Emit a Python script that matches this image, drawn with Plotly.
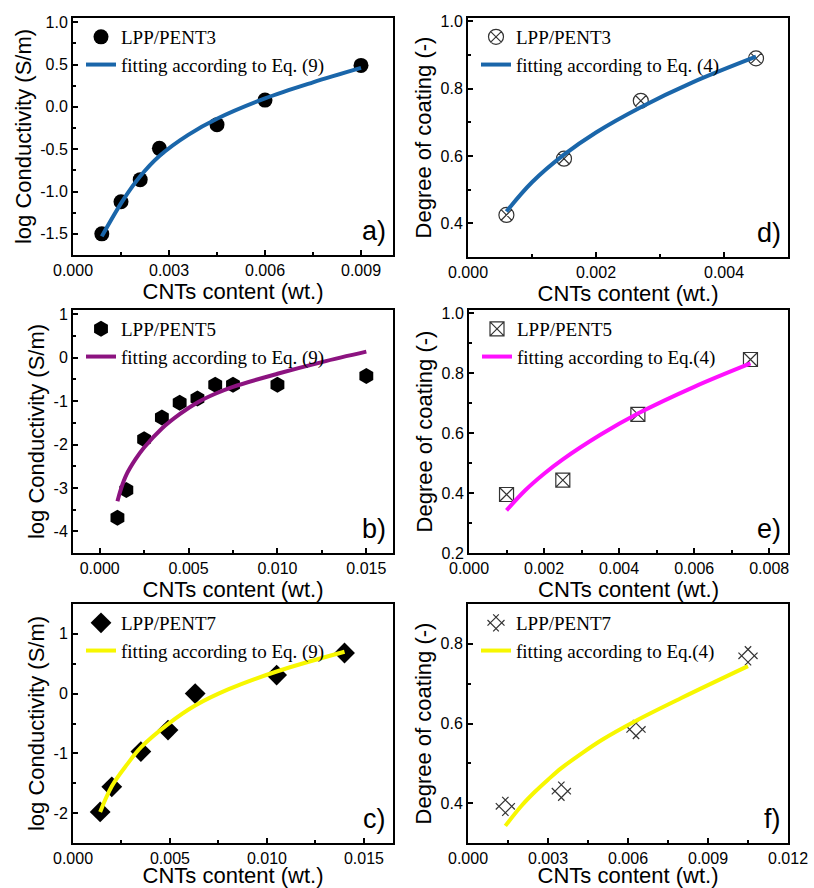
import plotly.graph_objects as go

W, H = 814, 888

# ---------------- data ----------------
# a) LPP/PENT3 log conductivity
a_x = [0.0009, 0.0015, 0.0021, 0.0027, 0.0045, 0.006, 0.009]
a_y = [-1.50, -1.12, -0.86, -0.49, -0.21, 0.08, 0.49]
a_fit_x = [0.0009, 0.00155, 0.0021, 0.0027, 0.0036, 0.0045, 0.006, 0.0075, 0.009]
a_fit_y = [-1.53, -1.11, -0.82, -0.58, -0.33, -0.14, 0.10, 0.29, 0.46]

# b) LPP/PENT5 log conductivity
b_x = [0.001, 0.0015, 0.0025, 0.0035, 0.0045, 0.0055, 0.0065, 0.0075, 0.010, 0.015]
b_y = [-3.69, -3.05, -1.88, -1.38, -1.04, -0.94, -0.62, -0.62, -0.62, -0.42]
b_fit_x = [0.001, 0.0012, 0.0015, 0.002, 0.0025, 0.0035, 0.0045, 0.0055, 0.0065, 0.0075, 0.010, 0.0125, 0.015]
b_fit_y = [-3.31, -3.02, -2.70, -2.35, -2.07, -1.63, -1.30, -1.03, -0.83, -0.67, -0.37, -0.10, 0.14]

# c) LPP/PENT7 log conductivity
c_x = [0.0014, 0.002, 0.0035, 0.0049, 0.0063, 0.0105, 0.014]
c_y = [-1.98, -1.56, -0.97, -0.61, 0.00, 0.31, 0.68]
c_fit_x = [0.0014, 0.002, 0.0028, 0.0035, 0.0049, 0.0063, 0.008, 0.0105, 0.014]
c_fit_y = [-1.98, -1.55, -1.18, -0.90, -0.51, -0.20, 0.07, 0.37, 0.70]

# d) LPP/PENT3 degree of coating
d_x = [0.0006, 0.0015, 0.0027, 0.0045]
d_y = [0.425, 0.592, 0.764, 0.890]
d_fit_x = [0.0006, 0.001, 0.0015, 0.002, 0.0027, 0.0035, 0.0045]
d_fit_y = [0.435, 0.522, 0.604, 0.670, 0.745, 0.818, 0.895]

# e) LPP/PENT5 degree of coating
e_x = [0.001, 0.0025, 0.0045, 0.0075]
e_y = [0.395, 0.443, 0.662, 0.845]
e_fit_x = [0.001, 0.0015, 0.002, 0.0025, 0.0035, 0.0045, 0.006, 0.0075]
e_fit_y = [0.342, 0.409, 0.464, 0.512, 0.594, 0.665, 0.754, 0.832]

# f) LPP/PENT7 degree of coating
f_x = [0.0014, 0.0035, 0.0063, 0.0105]
f_y = [0.392, 0.430, 0.585, 0.770]
f_fit_x = [0.0014, 0.002, 0.0025, 0.003, 0.0035, 0.0042, 0.005, 0.0063, 0.008, 0.0105]
f_fit_y = [0.343, 0.393, 0.428, 0.459, 0.488, 0.522, 0.558, 0.607, 0.664, 0.744]

# tick labels
a_yticks = [-1.5, -1.0, -0.5, 0.0, 0.5, 1.0]
a_yticktext = ["-1.5", "-1.0", "-0.5", "0.0", "0.5", "1.0"]
b_yticks = [-4, -3, -2, -1, 0, 1]
b_yticktext = ["-4", "-3", "-2", "-1", "0", "1"]
c_yticks = [-2, -1, 0, 1]
c_yticktext = ["-2", "-1", "0", "1"]

series_names = ["LPP/PENT3", "LPP/PENT5", "LPP/PENT7"]
fit_names_a = ["fitting according to Eq. (9)", "fitting according to Eq. (9)", "fitting according to Eq. (9)"]
fit_names_d = ["fitting according to Eq. (4)", "fitting according to Eq.(4)", "fitting according to Eq.(4)"]

x_title = "CNTs content (wt.)"
y_title_left = "log Conductivity (S/m)"
y_title_right = "Degree of coating (-)"

# ---------------- layout spec ----------------
panels = [
    dict(key="a", frame=(73, 393, 18, 255), xr=[0, 0.01], xd=0.003, xm=0.0015,
         yr=[-1.75, 1.05], yd=0.5, ym=0.25, yt=(a_yticks, a_yticktext),
         x=a_x, y=a_y, fx=a_fit_x, fy=a_fit_y, sym="circle", size=15, filled=True, ang=0,
         col="#1a66aa", name=series_names[0], fname=fit_names_a[0], ytitle=y_title_left),
    dict(key="b", frame=(73, 393, 310, 553), xr=[-0.0015, 0.0165], xd=0.005, xm=0.0025,
         yr=[-4.5, 1.1], yd=1, ym=0.5, yt=(b_yticks, b_yticktext),
         x=b_x, y=b_y, fx=b_fit_x, fy=b_fit_y, sym="hexagon", size=16, filled=True, ang=0,
         col="#8c1380", name=series_names[1], fname=fit_names_a[1], ytitle=y_title_left),
    dict(key="c", frame=(73, 393, 604, 843), xr=[0, 0.0165], xd=0.005, xm=0.0025,
         yr=[-2.5, 1.5], yd=1, ym=0.5, yt=(c_yticks, c_yticktext),
         x=c_x, y=c_y, fx=c_fit_x, fy=c_fit_y, sym="diamond", size=16, filled=True, ang=0,
         col="#f7f700", name=series_names[2], fname=fit_names_a[2], ytitle=y_title_left),
    dict(key="d", frame=(468, 788, 18, 257), xr=[0, 0.005], xd=0.002, xm=0.001,
         yr=[0.3, 1.01], yd=0.2, ym=0.1, yt=None,
         x=d_x, y=d_y, fx=d_fit_x, fy=d_fit_y, sym="circle-x-open", size=15, filled=False, ang=0,
         col="#1a66aa", name=series_names[0], fname=fit_names_d[0], ytitle=y_title_right),
    dict(key="e", frame=(469, 788, 310, 553), xr=[0, 0.0085], xd=0.002, xm=0.001,
         yr=[0.2, 1.01], yd=0.2, ym=0.1, yt=None,
         x=e_x, y=e_y, fx=e_fit_x, fy=e_fit_y, sym="square-x-open", size=14, filled=False, ang=0,
         col="#ff10ff", name=series_names[1], fname=fit_names_d[1], ytitle=y_title_right),
    dict(key="f", frame=(468, 788, 604, 843), xr=[0, 0.012], xd=0.003, xm=0.0015,
         yr=[0.3, 0.9], yd=0.2, ym=0.1, yt=None,
         x=f_x, y=f_y, fx=f_fit_x, fy=f_fit_y, sym="hash-open", size=18, filled=False, ang=45,
         col="#f7f700", name=series_names[2], fname=fit_names_d[2], ytitle=y_title_right),
]

SANS = "Liberation Sans, Arial, sans-serif"
SERIF = "Liberation Serif, Times New Roman, serif"

fig = go.Figure()
layout = dict(template="none", width=W, height=H, margin=dict(l=0, r=0, t=0, b=0),
              paper_bgcolor="white", plot_bgcolor="white", showlegend=True,
              annotations=[])

for i, p in enumerate(panels):
    n = i + 1
    xa = "x" if n == 1 else f"x{n}"
    ya = "y" if n == 1 else f"y{n}"
    lg = "legend" if n == 1 else f"legend{n}"
    L, R, T, B = p["frame"]
    axis_common = dict(showline=True, linecolor="black", linewidth=2, mirror=True,
                       ticks="inside", ticklen=5, tickwidth=1.5, tickcolor="black",
                       showgrid=False, zeroline=False, automargin=False,
                       tickfont=dict(family=SANS, size=16, color="black"))
    xaxis = dict(axis_common, domain=[L / W, R / W], range=p["xr"], anchor=ya,
                 tick0=0, dtick=p["xd"], tickformat=".3f",
                 minor=dict(ticks="inside", ticklen=3, tickwidth=1.5, tickcolor="black",
                            tick0=0, dtick=p["xm"], showgrid=False),
                 title=dict(text=x_title, font=dict(family=SANS, size=22, color="black"),
                            standoff=1))
    yaxis = dict(axis_common, domain=[1 - B / H, 1 - T / H], range=p["yr"], anchor=xa,
                 tick0=0, dtick=p["yd"], tickformat=".1f",
                 minor=dict(ticks="inside", ticklen=3, tickwidth=1.5, tickcolor="black",
                            tick0=0, dtick=p["ym"], showgrid=False),
                 title=dict(text=p["ytitle"], font=dict(family=SANS, size=22, color="black"),
                            standoff=3))
    if p["yt"] is not None:
        yaxis.update(tickmode="array", tickvals=p["yt"][0], ticktext=p["yt"][1])
    layout["xaxis" if n == 1 else f"xaxis{n}"] = xaxis
    layout["yaxis" if n == 1 else f"yaxis{n}"] = yaxis

    if p["filled"]:
        marker = dict(symbol=p["sym"], size=p["size"], color="black",
                      line=dict(width=0, color="black"))
    else:
        marker = dict(symbol=p["sym"], size=p["size"], color="#333333", angle=p["ang"],
                      line=dict(width=1.2, color="#333333"))
    fig.add_trace(go.Scatter(x=p["x"], y=p["y"], mode="markers", marker=marker,
                             name=p["name"], xaxis=xa, yaxis=ya, legend=lg))
    fig.add_trace(go.Scatter(x=p["fx"], y=p["fy"], mode="lines",
                             line=dict(color=p["col"], width=4, shape="spline"),
                             name=p["fname"], xaxis=xa, yaxis=ya, legend=lg))

    layout[lg] = dict(x=(L + 8) / W, y=1 - (T + 0) / H, xanchor="left", yanchor="top",
                      bgcolor="rgba(0,0,0,0)", borderwidth=0,
                      font=dict(family=SERIF, size=19, color="black"),
                      tracegroupgap=0, itemsizing="trace")

    layout["annotations"].append(dict(
        text=p["key"] + ")", xref=f"{xa} domain", yref=f"{ya} domain",
        x=0.985, y=0.03, xanchor="right", yanchor="bottom", showarrow=False,
        font=dict(family=SANS, size=27, color="black")))

fig.update_layout(**layout)
fig.write_html("out.html", config={"displayModeBar": False},
               post_script="document.body.style.margin='0px';"
                           "document.body.style.overflow='hidden';")
